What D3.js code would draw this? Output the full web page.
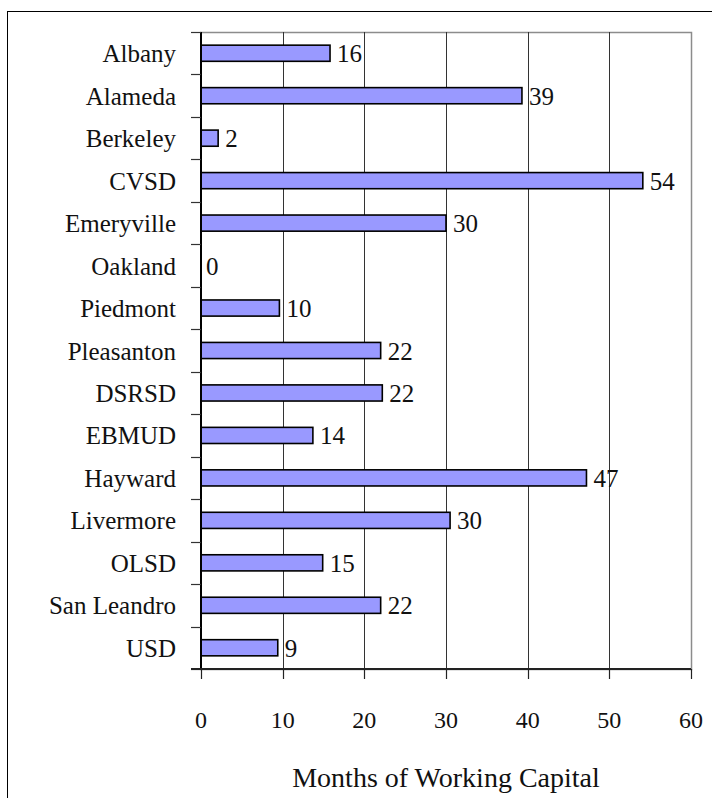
<!DOCTYPE html>
<html>
<head>
<meta charset="utf-8">
<script src="https://cdn.jsdelivr.net/npm/d3@7"></script>
<style>
  body { margin: 0; background: #fff; }
  svg { display: block; font-family: Garamond, 'Liberation Serif', 'Times New Roman', serif; }
</style>
</head>
<body>
<div id="chart"></div>
<script>
// agencies, top to bottom
const categories = ['Albany', 'Alameda', 'Berkeley', 'CVSD', 'Emeryville', 'Oakland', 'Piedmont',
    'Pleasanton', 'DSRSD', 'EBMUD', 'Hayward', 'Livermore', 'OLSD', 'San Leandro', 'USD'];
// months of working capital (bar lengths)
const values = [15.8, 39.3, 2.1, 54.1, 30.0, 0, 9.6, 22.0, 22.2, 13.7, 47.2, 30.5, 14.9, 22.0, 9.4];
// printed labels next to bars
const valueLabels = ['16', '39', '2', '54', '30', '0', '10', '22', '22', '14', '47', '30', '15', '22', '9'];
const xTicks = [0, 10, 20, 30, 40, 50, 60];
const xTitle = 'Months of Working Capital';

const W = 712, H = 798;
const plot = { left: 201, right: 691, top: 32, bottom: 669 };

const svg = d3.select('#chart').append('svg')
    .attr('width', W)
    .attr('height', H);

// outer frame, runs off the right and bottom edge
svg.append('rect')
    .attr('x', 7.5).attr('y', 11.5)
    .attr('width', W).attr('height', H)
    .attr('fill', 'none')
    .attr('stroke', '#000')
    .attr('stroke-width', 1);

const x = d3.scaleLinear().domain([0, 60]).range([plot.left, plot.right]);
const y = d3.scaleBand()
    .domain(categories)
    .range([plot.top, plot.bottom])
    .paddingInner(0.62)
    .paddingOuter(0.31);

// plot area border
svg.append('rect')
    .attr('x', plot.left).attr('y', plot.top + 0.5)
    .attr('width', plot.right - plot.left + 0.5)
    .attr('height', plot.bottom - plot.top)
    .attr('fill', 'none')
    .attr('stroke', '#8c8c8c')
    .attr('stroke-width', 1.5);

// vertical gridlines
svg.append('g')
    .selectAll('line')
    .data(xTicks.slice(1, -1))
    .enter().append('line')
    .attr('x1', d => Math.round(x(d)) + 0.5)
    .attr('x2', d => Math.round(x(d)) + 0.5)
    .attr('y1', plot.top)
    .attr('y2', plot.bottom)
    .attr('stroke', '#333')
    .attr('stroke-width', 1);

// bars
svg.append('g')
    .selectAll('rect')
    .data(categories.filter((c, i) => values[i] > 0))
    .enter().append('rect')
    .attr('x', x(0))
    .attr('y', d => y(d))
    .attr('width', d => x(values[categories.indexOf(d)]) - x(0))
    .attr('height', y.bandwidth())
    .attr('fill', '#9999ff')
    .attr('stroke', '#000')
    .attr('stroke-width', 1.6);

// value labels
svg.append('g')
    .selectAll('text')
    .data(categories)
    .enter().append('text')
    .attr('x', (d, i) => x(values[i]) + (values[i] > 0 ? 7 : 5))
    .attr('y', d => y(d) + y.bandwidth() / 2)
    .attr('dy', '0.36em')
    .attr('font-size', 25)
    .attr('fill', '#111')
    .text((d, i) => valueLabels[i]);

// left axis line and ticks at band boundaries
const step = y.step();
const bounds = d3.range(categories.length + 1).map(k => plot.top + k * step);
const yAxis = svg.append('g');
yAxis.append('line')
    .attr('x1', plot.left).attr('x2', plot.left)
    .attr('y1', plot.top).attr('y2', plot.bottom)
    .attr('stroke', '#000').attr('stroke-width', 2);
yAxis.selectAll('.tick')
    .data(bounds)
    .enter().append('line')
    .attr('class', 'tick')
    .attr('x1', plot.left - 10).attr('x2', plot.left)
    .attr('y1', d => Math.round(d) + 0.5)
    .attr('y2', d => Math.round(d) + 0.5)
    .attr('stroke', '#333').attr('stroke-width', 1.2);
yAxis.selectAll('text')
    .data(categories)
    .enter().append('text')
    .attr('x', 176)
    .attr('y', d => y(d) + y.bandwidth() / 2)
    .attr('dy', '0.36em')
    .attr('text-anchor', 'end')
    .attr('font-size', 25)
    .attr('fill', '#111')
    .text(d => d);

// bottom axis
const xAxis = svg.append('g');
xAxis.append('line')
    .attr('x1', plot.left - 10).attr('x2', plot.right)
    .attr('y1', plot.bottom).attr('y2', plot.bottom)
    .attr('stroke', '#222').attr('stroke-width', 2);
xAxis.selectAll('.tick')
    .data(xTicks)
    .enter().append('line')
    .attr('class', 'tick')
    .attr('x1', d => Math.round(x(d)) + 0.5)
    .attr('x2', d => Math.round(x(d)) + 0.5)
    .attr('y1', plot.bottom).attr('y2', plot.bottom + 10)
    .attr('stroke', '#222').attr('stroke-width', 1.2);
xAxis.selectAll('text')
    .data(xTicks)
    .enter().append('text')
    .attr('x', d => x(d))
    .attr('y', 728)
    .attr('text-anchor', 'middle')
    .attr('font-size', 24)
    .attr('fill', '#111')
    .text(d => d);

svg.append('text')
    .attr('x', (plot.left + plot.right) / 2)
    .attr('y', 787)
    .attr('text-anchor', 'middle')
    .attr('font-size', 28)
    .attr('fill', '#111')
    .text(xTitle);
</script>
</body>
</html>
